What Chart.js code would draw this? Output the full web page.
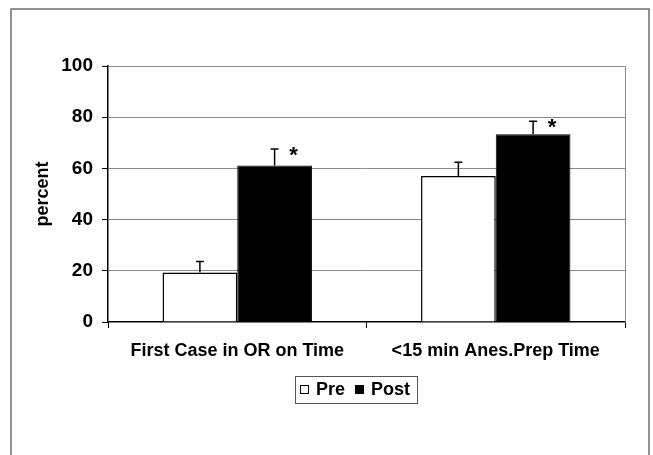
<!DOCTYPE html>
<html>
<head>
<meta charset="utf-8">
<script src="https://cdn.jsdelivr.net/npm/chart.js@4/dist/chart.umd.min.js"></script>
<style>
  html, body { margin: 0; padding: 0; background: #fff; }
  #wrap { width: 653px; height: 455px; }
</style>
</head>
<body>
<div id="wrap"><canvas id="chart"></canvas></div>
<script>
// data
const categories = ['First Case in OR on Time', '<15 min Anes.Prep Time'];
const seriesNames = ['Pre', 'Post'];
const preValues = [19.3, 57.0];
const postValues = [61.1, 73.3];
const preErrors = [4.3, 5.4];
const postErrors = [6.5, 5.1];
const postSignificant = [true, true];
const yTicks = [0, 20, 40, 60, 80, 100];

const FONT = '"Liberation Sans", Arial, sans-serif';

/** error bars, asterisks, frames and the boxed legend */
const extras = {
    id: 'extras',
    afterDatasetsDraw(chart) {
        const ctx = chart.ctx;
        const y = chart.scales.y;
        const errs = [preErrors, postErrors];
        ctx.save();
        ctx.strokeStyle = '#000';
        ctx.lineWidth = 1.5;
        chart.data.datasets.forEach((ds, d) => {
            const meta = chart.getDatasetMeta(d);
            meta.data.forEach((bar, i) => {
                const top = y.getPixelForValue(ds.data[i] + errs[d][i]);
                ctx.beginPath();
                ctx.moveTo(bar.x, bar.y);
                ctx.lineTo(bar.x, top);
                ctx.moveTo(bar.x - 4, top);
                ctx.lineTo(bar.x + 4, top);
                ctx.stroke();
                if (d === 1 && postSignificant[i]) {
                    ctx.fillStyle = '#000';
                    ctx.font = 'bold 22px ' + FONT;
                    ctx.textAlign = 'center';
                    ctx.textBaseline = 'alphabetic';
                    ctx.fillText('*', bar.x + 19, top + 13);
                }
            });
        });
        ctx.restore();
    },
    afterDraw(chart) {
        const ctx = chart.ctx;
        const a = chart.chartArea;
        ctx.save();
        // plot area border (top + right)
        ctx.strokeStyle = '#8a8a8a';
        ctx.lineWidth = 1;
        ctx.beginPath();
        ctx.moveTo(a.left, a.top + 0.5);
        ctx.lineTo(a.right + 0.5, a.top + 0.5);
        ctx.lineTo(a.right + 0.5, a.bottom);
        ctx.stroke();

        // outer frame
        ctx.strokeStyle = '#6e6e6e';
        ctx.lineWidth = 1.5;
        ctx.beginPath();
        ctx.moveTo(11, 455);
        ctx.lineTo(11, 9);
        ctx.lineTo(649, 9);
        ctx.lineTo(649, 455);
        ctx.stroke();

        // legend
        const lx = 295, ly = 376, lh = 27;
        ctx.font = 'bold 18px ' + FONT;
        ctx.textBaseline = 'middle';
        ctx.textAlign = 'left';
        const cy = ly + lh / 2;
        let x = lx + 5;
        const fills = ['#fff', '#000'];
        seriesNames.forEach((name, k) => {
            if (k > 0) x += 10;
            ctx.fillStyle = fills[k];
            ctx.fillRect(x, cy - 4.5, 9, 9);
            ctx.strokeStyle = '#000';
            ctx.lineWidth = 1;
            ctx.strokeRect(x + 0.5, cy - 4, 8, 8);
            x += 16;
            ctx.fillStyle = '#000';
            ctx.fillText(name, x, cy + 1);
            x += ctx.measureText(name).width;
        });
        const lw = x + 7 - lx;
        ctx.strokeStyle = '#555';
        ctx.lineWidth = 1;
        ctx.strokeRect(lx + 0.5, ly + 0.5, lw, lh);
        ctx.restore();
    }
};

new Chart(document.getElementById('chart'), {
    type: 'bar',
    data: {
        labels: categories,
        datasets: [
            {
                label: seriesNames[0],
                data: preValues,
                backgroundColor: '#fff',
                borderColor: '#000',
                borderWidth: 1.5,
            },
            {
                label: seriesNames[1],
                data: postValues,
                backgroundColor: '#000',
                borderColor: '#000',
                borderWidth: 1,
            },
        ]
    },
    options: {
        responsive: true,
        maintainAspectRatio: false,
        animation: false,
        categoryPercentage: 0.578,
        barPercentage: 1.0,
        layout: { padding: { left: 12, top: 66, right: 28, bottom: 0 } },
        plugins: {
            legend: { display: false },
            tooltip: { enabled: false },
        },
        scales: {
            x: {
                offset: true,
                grid: { drawOnChartArea: false, offset: true, tickLength: 6, tickColor: '#000', lineWidth: 1 },
                border: { color: '#000', width: 1.5 },
                ticks: { color: '#000', font: { family: FONT, size: 18, weight: 'bold' }, padding: 12, maxRotation: 0 },
                afterFit(scale) { scale.height = 133; },
            },
            y: {
                min: 0,
                max: 100,
                afterBuildTicks(scale) { scale.ticks = yTicks.map(v => ({ value: v })); },
                grid: {
                    color: c => (c.tick && (c.tick.value === 0 || c.tick.value === 100)) ? 'rgba(0,0,0,0)' : '#8a8a8a',
                    tickColor: '#000',
                    tickLength: 6,
                    lineWidth: 1,
                },
                border: { color: '#000', width: 1.5 },
                ticks: { color: '#000', font: { family: FONT, size: 19, weight: 'bold' }, padding: 9 },
                title: {
                    display: true,
                    text: 'percent',
                    color: '#000',
                    font: { family: FONT, size: 18, weight: 'bold' },
                    padding: { top: 20, bottom: 0 },
                },
                afterFit(scale) { scale.width = 96; },
            },
        },
    },
    plugins: [extras],
});
</script>
</body>
</html>
